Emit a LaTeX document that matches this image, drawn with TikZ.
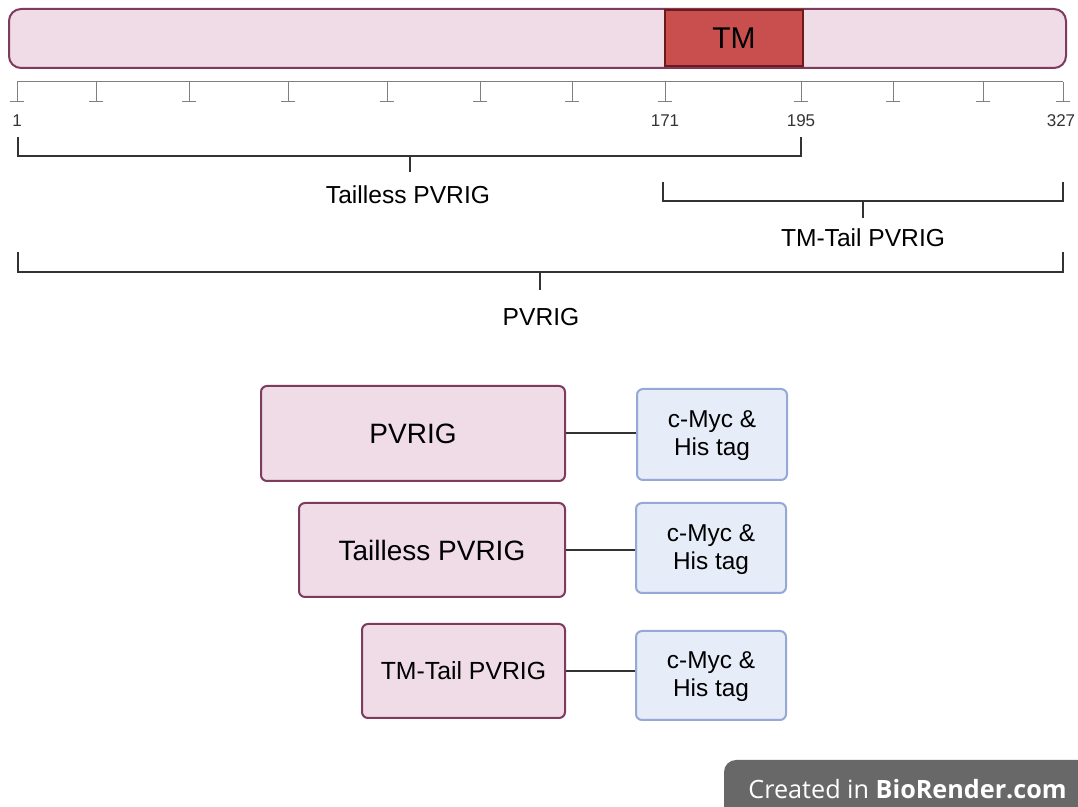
\documentclass[tikz,border=0pt]{standalone}
\usepackage{fontspec}
\setmainfont{Liberation Sans}
\newfontfamily\wmfont{Open Sans}
\definecolor{protfill}{RGB}{239, 220, 230}
\definecolor{protline}{RGB}{126, 59, 94}
\definecolor{tmfill}{RGB}{201, 79, 79}
\definecolor{tmline}{RGB}{110, 26, 26}
\definecolor{tagfill}{RGB}{230, 236, 248}
\definecolor{tagline}{RGB}{148, 169, 214}
\definecolor{axisgray}{RGB}{128, 128, 128}
\definecolor{wmgray}{RGB}{104, 104, 104}
\tikzset{
    protbox/.style={draw=protline, fill=protfill, line width=1pt,
        rounded corners=3pt, inner sep=0pt},
    tagbox/.style={draw=tagline, fill=tagfill, line width=1pt,
        rounded corners=3pt, inner sep=0pt, align=center,
        font=\fontsize{12.2}{14}\selectfont},
    numlabel/.style={text=black!80, font=\fontsize{8.5}{10}\selectfont},
    brlabel/.style={font=\fontsize{12.3}{15}\selectfont},
    bracket/.style={draw=black!80, line width=1.2pt},
    link/.style={draw=black!80, line width=1pt},
}

\begin{document}
\begin{tikzpicture}[x=0.5pt, y=-0.5pt]
    \useasboundingbox (0, 0) rectangle (1078, 807);
    % protein bar with the TM domain
    \node[protbox, rounded corners=6pt, minimum width=528.5pt,
        minimum height=29.5pt] (bar) at (537.5, 38.5) {};
    \node[draw=tmline, fill=tmfill, line width=1pt, minimum width=69pt,
        minimum height=28pt, font=\fontsize{15}{18}\selectfont]
        (tm) at (734, 38) {TM};
    % scale
    \draw[axisgray, line width=0.5pt] (17, 82) -- (1063, 82);
    \foreach \t in {17, 96, 189, 288, 387, 480, 572, 665, 801, 893, 983, 1063}
        \draw[axisgray, line width=0.5pt] (\t, 82) -- (\t, 102)
            (\t-7, 102) -- (\t+7, 102);
    \node[numlabel] (n1) at (17, 121) {1};
    \node[numlabel] (n171) at (665, 121) {171};
    \node[numlabel] (n195) at (801, 121) {195};
    \node[numlabel] (n327) at (1061, 121) {327};
    % constructs
    \draw[bracket] (18, 137) -- (18, 156) -- (801, 156) -- (801, 137);
    \draw[bracket] (410, 156) -- (410, 172);
    \node[brlabel] (taillesslab) at (408, 195) {Tailless PVRIG};
    \draw[bracket] (663, 182) -- (663, 201) -- (1063, 201) -- (1063, 182);
    \draw[bracket] (863, 201) -- (863, 218);
    \node[brlabel] (tmtaillab) at (863, 238) {TM-Tail PVRIG};
    \draw[bracket] (18, 252) -- (18, 272) -- (1063, 272) -- (1063, 252);
    \draw[bracket] (540, 272) -- (540, 290);
    \node[brlabel] (fulllab) at (541, 317) {PVRIG};
    % expression constructs
    \node[protbox, minimum width=152pt, minimum height=47.5pt,
        font=\fontsize{14}{17}\selectfont] (pv) at (413, 433.5) {PVRIG};
    \node[protbox, minimum width=133pt, minimum height=47pt,
        font=\fontsize{14}{17}\selectfont] (tl) at (432, 550)
        {Tailless PVRIG};
    \node[protbox, minimum width=101.5pt, minimum height=47pt,
        font=\fontsize{12.4}{15}\selectfont] (tmt) at (463.5, 671)
        {TM-Tail PVRIG};
    \node[tagbox, minimum width=75pt, minimum height=45.5pt] (tag1)
        at (712, 434.5) {\strut c-Myc \&\\His tag};
    \node[tagbox, minimum width=75pt, minimum height=45pt] (tag2)
        at (711, 548) {\strut c-Myc \&\\His tag};
    \node[tagbox, minimum width=75pt, minimum height=44.5pt] (tag3)
        at (711, 675.5) {\strut c-Myc \&\\His tag};
    \draw[link] (pv.east) -- (tag1.west |- pv.east);
    \draw[link] (tl.east) -- (tag2.west |- tl.east);
    \draw[link] (tmt.east) -- (tag3.west |- tmt.east);
    % watermark
    \fill[wmgray] (724, 807) [rounded corners=6pt] -- (724, 760)
        [sharp corners] -- (1078, 760) -- (1078, 807) -- cycle;
    \node[text=white, font=\wmfont\fontsize{12.6}{15}\selectfont,
        anchor=base west, inner sep=0pt] (wm) at (748, 799)
        {Created in \textbf{BioRender.com}};
\end{tikzpicture}
\end{document}
